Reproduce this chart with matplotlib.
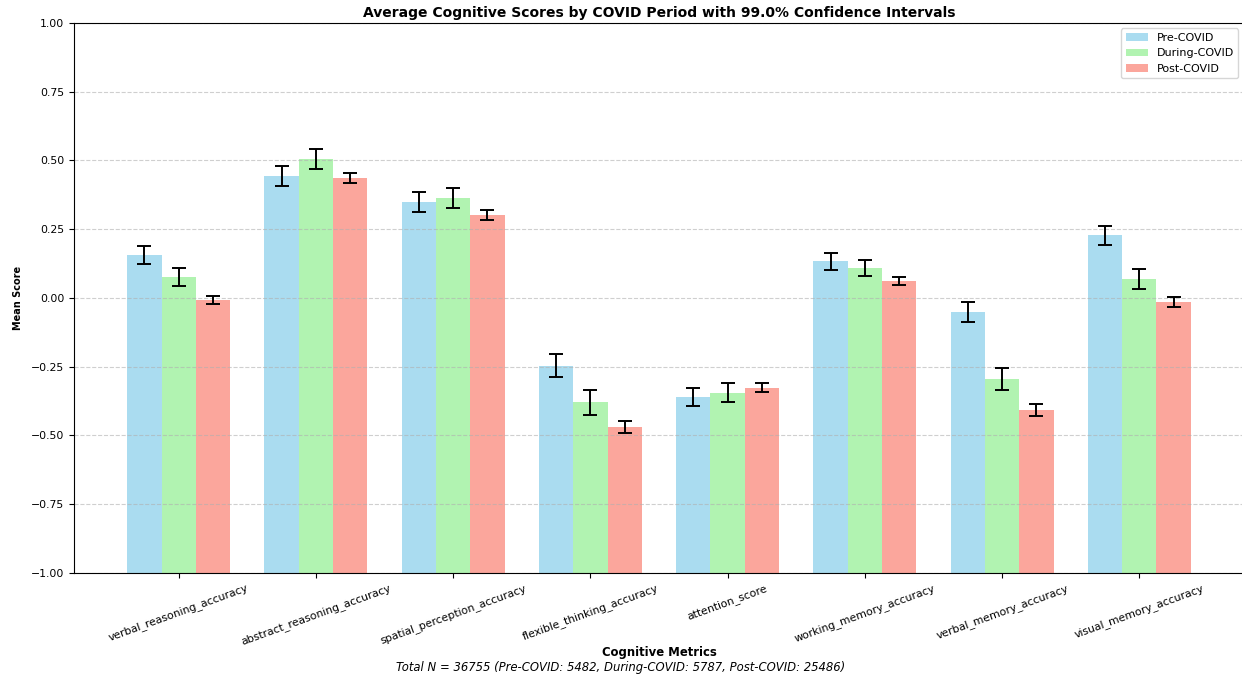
import numpy as np
import matplotlib.pyplot as plt

metrics = ['verbal_reasoning_accuracy', 'abstract_reasoning_accuracy', 'spatial_perception_accuracy',
           'flexible_thinking_accuracy', 'attention_score', 'working_memory_accuracy',
           'verbal_memory_accuracy', 'visual_memory_accuracy']
periods = ['Pre-COVID', 'During-COVID', 'Post-COVID']

pre_means = [0.155, 0.444, 0.349, -0.247, -0.360, 0.133, -0.051, 0.228]
during_means = [0.076, 0.504, 0.364, -0.380, -0.344, 0.110, -0.296, 0.068]
post_means = [-0.007, 0.436, 0.302, -0.468, -0.327, 0.062, -0.408, -0.015]

pre_ci = [0.032, 0.037, 0.035, 0.042, 0.033, 0.030, 0.035, 0.035]
during_ci = [0.031, 0.036, 0.036, 0.044, 0.033, 0.029, 0.040, 0.036]
post_ci = [0.015, 0.018, 0.017, 0.022, 0.016, 0.015, 0.021, 0.018]

n_counts = {'Pre-COVID': 5482, 'During-COVID': 5787, 'Post-COVID': 25486}
confidence = 0.99

colors = ['skyblue', 'lightgreen', 'salmon']
means = [pre_means, during_means, post_means]
cis = [pre_ci, during_ci, post_ci]

fig = plt.figure(figsize=(12.42, 6.74), dpi=100)
ax = fig.add_axes([0.0596, 0.150, 0.9420, 0.8160])

x = np.arange(len(metrics))
width = 0.25
floor = -1.0  # bars rise from the bottom of the score axis

for k, period in enumerate(periods):
    heights = np.array(means[k]) - floor
    ax.bar(x + (k - 1) * width, heights, width, bottom=floor, color=colors[k], alpha=0.7, label=period)
    ax.errorbar(x + (k - 1) * width, means[k], yerr=cis[k], fmt='none', ecolor='black',
                elinewidth=1.4, capsize=5, capthick=1.4)

ax.set_ylim(-1, 1)
ax.set_yticks(np.arange(-1, 1.01, 0.25))
ax.set_xticks(x)
ax.set_xticklabels(metrics, rotation=20, ha='center', fontsize=7.8)
ax.tick_params(axis='y', labelsize=7.8)
ax.grid(axis='y', linestyle='--', alpha=0.6)
ax.spines['right'].set_visible(False)

ax.set_title(f'Average Cognitive Scores by COVID Period with {confidence * 100:.1f}% Confidence Intervals',
             fontsize=10, fontweight='bold', pad=4)
ax.set_ylabel('Mean Score', fontsize=7, fontweight='bold', labelpad=6)
ax.set_xlabel('Cognitive Metrics', fontsize=8.4, fontweight='bold', labelpad=-1)
ax.legend(loc='upper right', fontsize=8)

total = sum(n_counts.values())
fig.text(0.5, 0.005,
         f"Total N = {total} (Pre-COVID: {n_counts['Pre-COVID']}, During-COVID: {n_counts['During-COVID']}, "
         f"Post-COVID: {n_counts['Post-COVID']})",
         ha='center', fontsize=8.4, style='italic')

fig.savefig('out.png', dpi=100)
